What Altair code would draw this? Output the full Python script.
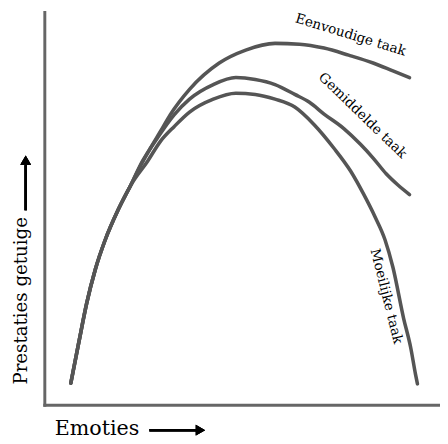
import altair as alt
import pandas as pd

# Emotion level (x, 0-100) and performance (y, 0-100)
easy_x = [6.7, 8.7, 10.7, 12.9, 15.4, 18.6, 21.8, 23.6, 26.8, 29.3, 31.8, 36.7, 44.2,
          50.9, 58.3, 64.5, 70.7, 76.9, 83.1, 88.1, 92.3]
easy_y = [5.5, 15.8, 25.8, 34.5, 42.0, 49.5, 55.8, 59.5, 65.3, 69.5, 73.8, 80.3, 87.0,
          90.3, 92.0, 91.8, 90.8, 89.0, 87.0, 85.0, 83.3]

mid_x = [6.7, 8.7, 10.7, 12.9, 15.4, 18.6, 21.8, 24.8, 28.5, 32.8, 36.7, 42.7, 48.4,
         53.3, 58.3, 63.3, 67.0, 70.7, 75.7, 79.9, 83.1, 86.4, 89.3, 92.3]
mid_y = [5.5, 15.8, 25.8, 34.5, 42.0, 49.5, 55.8, 62.0, 67.8, 73.8, 77.8, 81.5, 83.3,
         82.8, 81.5, 79.0, 77.0, 74.0, 70.3, 66.3, 62.8, 58.8, 56.0, 53.5]

hard_x = [6.7, 8.7, 10.7, 12.9, 15.4, 18.6, 21.8, 26.1, 29.3, 32.8, 36.7, 42.7, 48.4,
          53.3, 58.3, 63.3, 68.2, 73.2, 77.4, 80.6, 83.6, 86.1, 88.1, 90.8, 92.6, 93.8, 94.3]
hard_y = [5.5, 15.8, 25.8, 34.5, 42.0, 49.5, 55.8, 62.0, 67.0, 70.8, 74.5, 77.8, 79.3,
          79.0, 77.8, 75.8, 71.3, 65.3, 59.5, 53.8, 47.8, 42.0, 35.0, 22.0, 14.5, 7.8, 5.3]

task_names = ["Eenvoudige taak", "Gemiddelde taak", "Moeilijke taak"]

label_x = [77.4, 80.4, 86.4]
label_y = [94.1, 73.6, 27.6]
label_angle = [17, 44, 76]

rows = []
for name, xs, ys in zip(task_names, [easy_x, mid_x, hard_x], [easy_y, mid_y, hard_y]):
    for i, (x, y) in enumerate(zip(xs, ys)):
        rows.append({"taak": name, "emotie": x, "prestatie": y, "volgorde": i})
df = pd.DataFrame(rows)

labels = pd.DataFrame({"taak": task_names, "emotie": label_x,
                       "prestatie": label_y, "hoek": label_angle})

FONT = "DejaVu Serif"
xscale = alt.Scale(domain=[0, 100], nice=False, zero=False)
yscale = alt.Scale(domain=[0, 100], nice=False, zero=False)

base_axis = dict(ticks=False, labels=False, grid=False, domainColor="#666666",
                 domainWidth=3, domainCap="square", titleFont=FONT,
                 titleFontWeight="normal", titleColor="black",
                 titleBaseline="alphabetic", titleAlign="left")

lines = alt.Chart(df).mark_line(
    color="#555555", strokeWidth=3.6, interpolate="monotone", strokeCap="round"
).encode(
    x=alt.X("emotie:Q", scale=xscale,
            axis=alt.Axis(title="Emoties", titleX=10, titleY=30, titleAngle=0,
                          titleFontSize=21, **base_axis)),
    y=alt.Y("prestatie:Q", scale=yscale,
            axis=alt.Axis(title="Prestaties getuige", titleAngle=-90, titleX=-18,
                          titleY=379, titleFontSize=18.5, **base_axis)),
    detail="taak:N",
    order="volgorde:Q",
)

texts = alt.Chart(labels).mark_text(
    font=FONT, fontSize=13.8, color="black", align="center", baseline="middle"
).encode(
    x=alt.X("emotie:Q", scale=xscale),
    y=alt.Y("prestatie:Q", scale=yscale),
    text="taak:N",
    angle=alt.Angle("hoek:Q", scale=None),
)

# arrows next to the axis titles
y_shaft = alt.Chart(labels).mark_rule(color="black", strokeWidth=2.5).encode(
    x=alt.value(-19), y=alt.value(202), y2=alt.value(156))
y_head = alt.Chart(labels).mark_point(
    shape="triangle-up", filled=True, color="black", opacity=1, size=120
).encode(x=alt.value(-19), y=alt.value(151))
x_shaft = alt.Chart(labels).mark_rule(color="black", strokeWidth=2.5).encode(
    y=alt.value(426), x=alt.value(107), x2=alt.value(155))
x_head = alt.Chart(labels).mark_point(
    shape="triangle-right", filled=True, color="black", opacity=1, size=120
).encode(x=alt.value(159), y=alt.value(426))

chart = alt.layer(lines, texts, y_shaft, y_head, x_shaft, x_head).properties(
    width=403, height=400,
    padding={"left": 37, "top": 0, "right": 0, "bottom": 36},
    autosize=alt.AutoSizeParams(type="none"),
).configure_view(stroke=None)

chart.save("out.html", embed_options={"renderer": "svg", "actions": False})
